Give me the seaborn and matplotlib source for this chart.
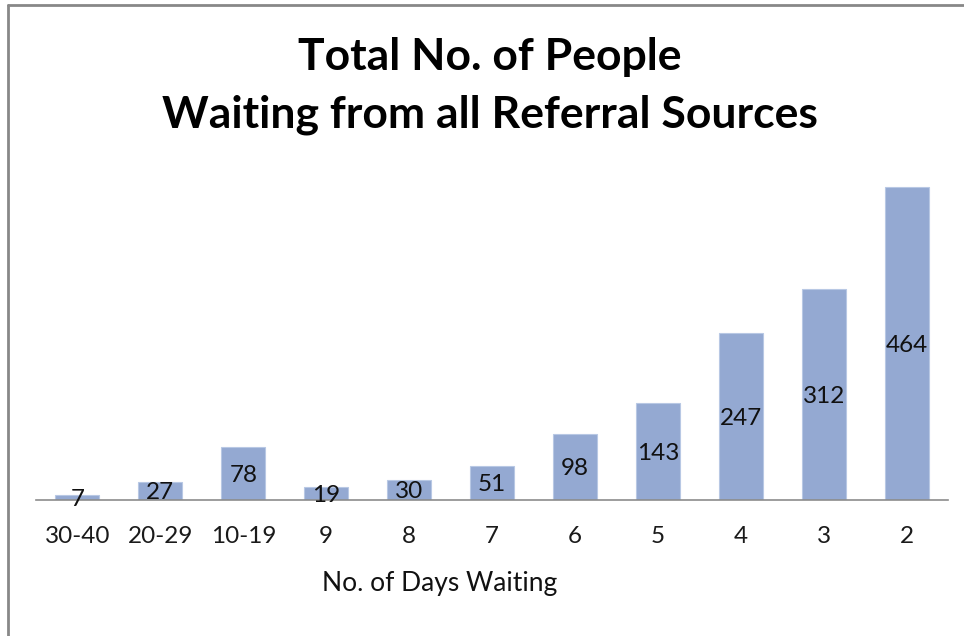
import matplotlib
matplotlib.use("Agg")
import matplotlib.pyplot as plt
import seaborn as sns
import pandas as pd
from matplotlib.lines import Line2D

categories = ["30-40", "20-29", "10-19", "9", "8", "7", "6", "5", "4", "3", "2"]
values = [7, 27, 78, 19, 30, 51, 98, 143, 247, 312, 464]

title_lines = ["Total No. of People", "Waiting from all Referral Sources"]
xlabel = "No. of Days Waiting"

df = pd.DataFrame({"days": categories, "people": values})

sns.set_theme(style="white")
plt.rcParams["font.family"] = ["Lato", "DejaVu Sans"]

fig = plt.figure(figsize=(9.64, 6.36), dpi=100)
ax = fig.add_axes([36/964, 1 - 500/636, 912/964, (500 - 162.5)/636])

sns.barplot(data=df, x="days", y="people", order=categories, color="#94A9D2",
            saturation=1, width=0.53, ax=ax, edgecolor="#B8C8E4", linewidth=0.8)

ax.set_ylim(0, 500)
ax.set_xlim(-0.5, len(categories) - 0.5)
ax.set_yticks([])
ax.set_ylabel("")
ax.set_xlabel("")
for s in ["top", "left", "right"]:
    ax.spines[s].set_visible(False)
ax.spines["bottom"].set_color("#8C8C8C")
ax.spines["bottom"].set_linewidth(1.2)
ax.tick_params(axis="x", length=0, pad=19, labelsize=17.5, labelcolor="#1a1a1a")

for p, v in zip(ax.patches, values):
    cx = p.get_x() + p.get_width() / 2
    ax.text(cx, v / 2 - 3, str(v), ha="center", va="center", fontsize=17.5, color="#111111")

fig.text(440/964, 1 - 583/636, xlabel, ha="center", va="center", fontsize=19, color="#111111")
fig.text(490/964, 1 - 57/636, title_lines[0], ha="center", va="center", fontsize=32,
         fontweight="bold", color="#000000")
fig.text(490/964, 1 - 115/636, title_lines[1], ha="center", va="center", fontsize=32,
         fontweight="bold", color="#000000")

# figure border (top and left visible)
fig.add_artist(Line2D([8/964, 1], [1 - 5/636, 1 - 5/636], transform=fig.transFigure,
                      color="#888888", linewidth=2))
fig.add_artist(Line2D([8/964, 8/964], [0, 1 - 5/636], transform=fig.transFigure,
                      color="#888888", linewidth=2))

fig.savefig("out.png", dpi=100)
